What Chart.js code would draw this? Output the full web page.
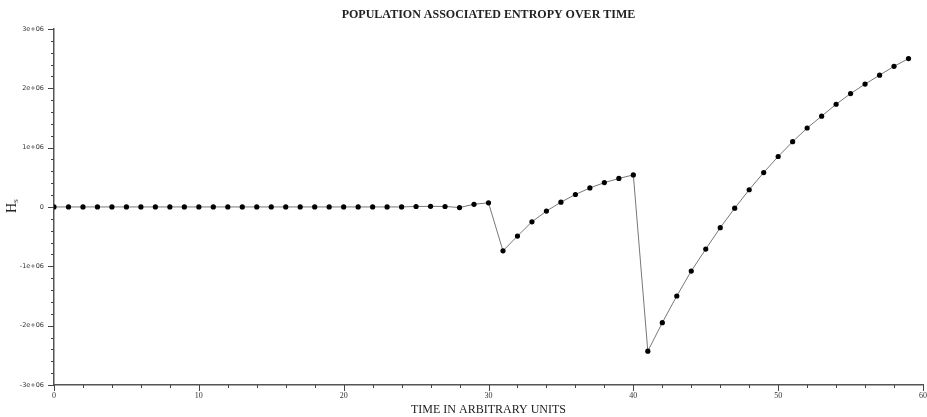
<!DOCTYPE html>
<html>
<head>
<meta charset="utf-8">
<script src="https://cdn.jsdelivr.net/npm/chart.js@4.4.1/dist/chart.umd.min.js"></script>
<style>
  html, body { margin: 0; padding: 0; background: #fff; }
  #wrap { width: 927px; height: 417px; position: relative; }
</style>
</head>
<body>
<div id="wrap"><canvas id="chart1"></canvas></div>
<script>
// time steps and entropy values
const timeSteps = [0, 1, 2, 3, 4, 5, 6, 7, 8, 9, 10, 11, 12, 13, 14, 15, 16, 17, 18, 19,
    20, 21, 22, 23, 24, 25, 26, 27, 28, 29, 30, 31, 32, 33, 34, 35, 36, 37, 38, 39,
    40, 41, 42, 43, 44, 45, 46, 47, 48, 49, 50, 51, 52, 53, 54, 55, 56, 57, 58, 59];
const entropy = [0, 0, 0, 0, 0, 0, 0, 0, 0, 0, 0, 0, 0, 0, 0, 0, 0, 0, 0, 0,
    0, 0, 0, 0, 0, 8000, 10000, 8000, -10000, 45000, 70000,
    -740000, -490000, -250000, -70000, 80000, 210000, 320000, 410000, 480000, 540000,
    -2430000, -1950000, -1500000, -1080000, -710000, -350000, -20000, 290000, 580000,
    850000, 1100000, 1330000, 1530000, 1730000, 1910000, 2070000, 2220000, 2370000, 2500000];
const xTickLabels = ['0', '10', '20', '30', '40', '50', '60'];
const yTickLabels = ['-3e+06', '-2e+06', '-1e+06', '0', '1e+06', '2e+06', '3e+06'];

// minor ticks (every 2 on x, every 2e5 on y), major ones a bit longer
const tickMarks = {
    id: 'tickMarks',
    afterDraw(chart) {
        const { ctx, chartArea, scales: { x, y } } = chart;
        ctx.save();
        ctx.strokeStyle = '#444';
        ctx.lineWidth = 1;
        ctx.beginPath();
        for (let i = 0; i <= 30; i++) {
            const px = Math.round(x.getPixelForValue(i * 2)) + 0.5;
            const len = i % 5 === 0 ? 6 : 3;
            ctx.moveTo(px, chartArea.bottom);
            ctx.lineTo(px, chartArea.bottom + len);
        }
        for (let i = 0; i <= 30; i++) {
            const py = Math.round(y.getPixelForValue(-3e6 + i * 2e5)) + 0.5;
            const len = i % 5 === 0 ? 6 : 3;
            ctx.moveTo(chartArea.left, py);
            ctx.lineTo(chartArea.left - len, py);
        }
        ctx.stroke();

        // y axis title H with subscript S
        ctx.translate(16, 207);
        ctx.rotate(-Math.PI / 2);
        ctx.fillStyle = '#222';
        ctx.textBaseline = 'alphabetic';
        ctx.font = '14px "Liberation Serif"';
        const w = ctx.measureText('H').width;
        ctx.fillText('H', -6, 0);
        ctx.font = '7px "Liberation Serif"';
        ctx.fillText('S', -6 + w, 2);
        ctx.restore();
    }
};

document.addEventListener('DOMContentLoaded', () => {
    const ctx = document.getElementById('chart1').getContext('2d');
    new Chart(ctx, {
        type: 'line',
        data: {
            datasets: [{
                data: timeSteps.map((t, i) => ({ x: t, y: entropy[i] })),
                borderColor: '#777',
                borderWidth: 1,
                pointRadius: 2.6,
                pointBackgroundColor: '#000',
                pointBorderColor: '#000',
                pointBorderWidth: 0,
                tension: 0
            }]
        },
        options: {
            responsive: true,
            maintainAspectRatio: false,
            animation: false,
            layout: { padding: { top: 0, right: 3, left: 0, bottom: 0 } },
            plugins: {
                legend: { display: false },
                tooltip: { enabled: false },
                title: {
                    display: true,
                    fullSize: false,
                    text: 'POPULATION ASSOCIATED ENTROPY OVER TIME',
                    color: '#222',
                    font: { family: '"Liberation Serif"', size: 12, weight: 'bold' },
                    padding: { top: 7.5, bottom: 7 }
                }
            },
            scales: {
                x: {
                    type: 'linear',
                    min: 0,
                    max: 60,
                    grid: { display: false, drawTicks: false },
                    border: { display: true, color: '#555', width: 1.5 },
                    ticks: {
                        stepSize: 10,
                        padding: 6,
                        color: '#333',
                        font: { family: '"Liberation Serif"', size: 8 },
                        callback: (v) => xTickLabels[v / 10]
                    },
                    title: {
                        display: true,
                        text: 'TIME IN ARBITRARY UNITS',
                        color: '#222',
                        font: { family: '"Liberation Serif"', size: 12 },
                        padding: { top: 0, bottom: 0 }
                    },
                    afterFit: (scale) => {
                        scale.height = 32;
                        scale.paddingLeft = 0;
                        scale.paddingRight = 0;
                    }
                },
                y: {
                    min: -3e6,
                    max: 3e6,
                    grid: { display: false, drawTicks: false },
                    border: { display: true, color: '#555', width: 1.5 },
                    ticks: {
                        stepSize: 1e6,
                        padding: 10,
                        color: '#333',
                        font: { family: '"DejaVu Sans"', size: 6.5 },
                        callback: (v) => yTickLabels[Math.round(v / 1e6) + 3]
                    },
                    afterFit: (scale) => { scale.width = 54; }
                }
            }
        },
        plugins: [tickMarks]
    });
});
</script>
</body>
</html>
